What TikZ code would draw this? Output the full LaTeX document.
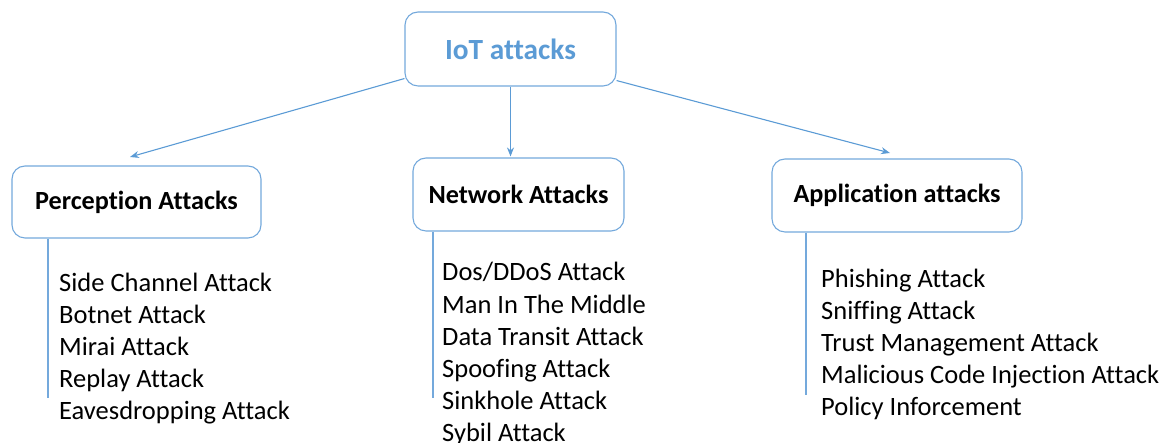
\documentclass[tikz,border=0pt]{standalone}
\usepackage{fontspec}
\setmainfont{Carlito}[RawFeature={-liga;-clig;-calt;-dlig}]
\usetikzlibrary{arrows.meta}
\definecolor{iotblue}{HTML}{5B9BD5}
\definecolor{boxblue}{HTML}{74A9DC}
\tikzset{
	box/.style={draw=boxblue, line width=1.1pt, rounded corners=13pt, fill=white, font=\fontsize{26.2}{32}\selectfont\bfseries},
	conn/.style={draw=iotblue, line width=1.1pt, -{Stealth[length=9pt,width=7pt]}},
	stem/.style={draw=boxblue, line width=1.3pt},
	item/.style={anchor=base west, inner sep=0pt, font=\fontsize{26.5}{32}\selectfont}
}
\begin{document}
\begin{tikzpicture}[x=1pt, y=1pt]
		\useasboundingbox (0,0) rectangle (1161,443);
		% top box
		\node[box, minimum width=211, minimum height=74, text=iotblue, font=\fontsize{29.3}{34}\selectfont\bfseries] (iot) at (510.5,394) {IoT attacks};
		% the three layers
		\node[box, minimum width=249, minimum height=72] (perc) at (136.5,241) {Perception Attacks};
		\node[box, minimum width=211, minimum height=73] (net) at (518.5,248.5) {Network Attacks};
		\node[box, minimum width=250, minimum height=73] (app) at (897,247.5) {Application attacks};
		\coordinate (perc-in) at (130,286);
		\coordinate (app-in) at (890,290);
		\draw[conn] ([yshift=8pt]iot.south west) -- (perc-in);
		\draw[conn] (iot.south) -- ([yshift=1pt]iot.south |- net.north);
		\draw[conn] ([yshift=6pt]iot.south east) -- (app-in);
		% lists
		\foreach \t [count=\i] in {Side Channel Attack, Botnet Attack, Mirai Attack, Replay Attack, Eavesdropping Attack}
			\node[item] (p\i) at (59,151-32*\i+32) {\t};
		\foreach \t [count=\i] in {Dos/DDoS Attack, Man In The Middle, Data Transit Attack, Spoofing Attack, Sinkhole Attack, Sybil Attack}
			\node[item] (n\i) at (442,162-32.2*\i+32.2) {\t};
		\foreach \t [count=\i] in {Phishing Attack, Sniffing Attack, Trust Management Attack, Malicious Code Injection Attack, Policy Inforcement}
			\node[item] (a\i) at (821,155-32*\i+32) {\t};
		\coordinate (p-end) at (48,45);
		\coordinate (n-end) at (433,45);
		\coordinate (a-end) at (806,48);
		\draw[stem] (p-end |- perc.south) -- (p-end);
		\draw[stem] (n-end |- net.south) -- (n-end);
		\draw[stem] (a-end |- app.south) -- (a-end);
	\end{tikzpicture}
\end{document}
